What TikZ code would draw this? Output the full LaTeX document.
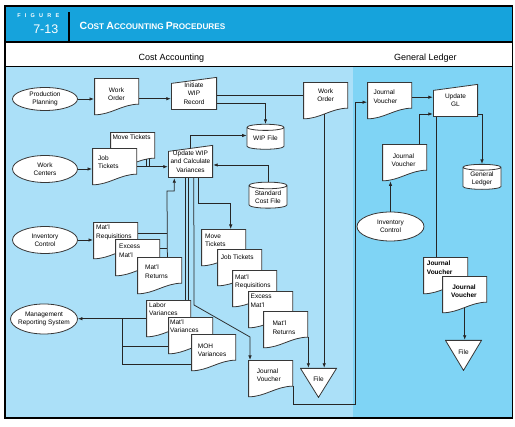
\documentclass[tikz,border=0pt]{standalone}
\usepackage{fontspec}
\setmainfont{Liberation Sans}
\usetikzlibrary{positioning,shapes.geometric,arrows.meta}
\definecolor{hdrblue}{RGB}{22,163,220}
\definecolor{caback}{RGB}{171,224,248}
\definecolor{glback}{RGB}{127,212,245}
\definecolor{outl}{RGB}{55,55,55}
\newcommand{\dfont}{\fontsize{6.5}{8.2}\selectfont}
\tikzset{shp/.style={fill=white, draw=outl, line width=0.8pt}}
\tikzset{doc/.style={rectangle, anchor=north west, minimum width=45pt, minimum height=37pt, inner sep=0pt,
	path picture={\path[shp] ([shift={(0.4pt,-0.4pt)}]path picture bounding box.north west)
		-- ([shift={(-0.4pt,-0.4pt)}]path picture bounding box.north east)
		-- ([shift={(-0.4pt,11pt)}]path picture bounding box.south east)
		.. controls ([shift={(-17pt,11pt)}]path picture bounding box.south east)
		and ([shift={(17pt,0.4pt)}]path picture bounding box.south west)
		.. ([shift={(0.4pt,0.4pt)}]path picture bounding box.south west) -- cycle;}}}
\tikzset{manual/.style={rectangle, minimum width=45pt, minimum height=33pt, inner sep=0pt, align=center, font=\dfont,
	path picture={\path[shp] ([shift={(0.4pt,0.4pt)}]path picture bounding box.south west)
		-- ([shift={(-0.4pt,0.4pt)}]path picture bounding box.south east)
		-- ([shift={(-0.4pt,-0.4pt)}]path picture bounding box.north east)
		-- ([shift={(0.4pt,-6.4pt)}]path picture bounding box.north west) -- cycle;}}}
\tikzset{filetri/.style={rectangle, minimum width=37pt, minimum height=30pt, inner sep=0pt,
	path picture={\path[shp] ([shift={(0.5pt,-0.4pt)}]path picture bounding box.north west)
		-- ([shift={(-0.5pt,-0.4pt)}]path picture bounding box.north east)
		-- ([yshift=0.6pt]path picture bounding box.south) -- cycle;}}}
\tikzset{term/.style={ellipse, shp, inner xsep=-8pt, inner ysep=0pt, minimum width=65pt, minimum height=25pt, align=center, font=\dfont}}
\tikzset{store/.style={cylinder, shape border rotate=90, aspect=0.25, shp, inner sep=0pt, minimum width=37pt, minimum height=25pt, align=center, font=\dfont}}
\tikzset{dtxt/.style={anchor=north west, inner sep=0pt, align=left, font=\dfont}}
\tikzset{dtxtc/.style={anchor=north, inner sep=0pt, align=center, font=\dfont}}
\tikzset{arr/.style={draw=black!85, line width=0.75pt, -{Latex[length=4.5pt,width=3.5pt]}}}
\tikzset{ln/.style={draw=black!85, line width=0.75pt}}

\begin{document}
\begin{tikzpicture}[x=1pt, y=-1pt]
\useasboundingbox (0,0) rectangle (515,427);
\fill[white] (0,0) rectangle (515,427);
% frame, header and the two panels
\fill[hdrblue] (5,6) rectangle (512.5,42);
\fill[caback] (5,66.5) rectangle (353,418);
\fill[glback] (353,66.5) rectangle (512.5,418);
\draw[line width=1.5pt] (5,6) rectangle (512.5,418);
\draw[line width=1.2pt] (5,42) -- (512.5,42);
\draw[line width=1pt] (5,66.3) -- (512.5,66.3);
\draw[line width=1.5pt] (69.2,12.5) -- (69.2,42);
\node[text=white, font=\bfseries\fontsize{5.5}{5.5}\selectfont] (figword) at (38.3,15.3)
	{F\kern4.2pt I\kern4.2pt G\kern4.2pt U\kern4.2pt R\kern4.2pt E};
\node[text=white, font=\fontsize{12.5}{12.5}\selectfont] (fignum) at (45.8,29) {7-13};
\node[text=white, anchor=west, inner sep=0pt, font=\bfseries] (figtitle) at (79.5,25.5)
	{{\fontsize{10.5}{11}\selectfont C}{\fontsize{8.2}{9}\selectfont OST }{\fontsize{10.5}{11}\selectfont A}{\fontsize{8.2}{9}\selectfont CCOUNTING }{\fontsize{10.5}{11}\selectfont P}{\fontsize{8.2}{9}\selectfont ROCEDURES}};
\node[anchor=base, font=\fontsize{9}{10}\selectfont] (catitle) at (171.3,61) {Cost Accounting};
\node[anchor=base, font=\fontsize{9}{10}\selectfont] (gltitle) at (425.3,61) {General Ledger};

% Cost Accounting
\node[term, minimum height=23pt] (pp) at (45,99) {Production\\Planning};
\node[term, minimum height=27pt] (wc) at (45,169) {Work\\Centers};
\node[term, minimum height=27pt] (ic) at (45,240) {Inventory\\Control};
\node[term, minimum width=67pt, minimum height=30pt] (mrs) at (44,319) {Management\\Reporting System};

\node[doc] (wo1) at (94,78) {};
\node[dtxtc] (wo1t) at (116.5,87.7) {Work\\Order};
\node[manual, minimum width=46pt] (iwr) at (194,93.5) {Initiate\\WIP\\Record};
\node[doc] (wo2) at (303,82) {};
\node[dtxtc] (wo2t) at (325.7,88.3) {Work\\Order};
\node[store] (wipf) at (265.5,138.5) {WIP File};
\node[store, minimum width=38pt, minimum height=26pt] (scf) at (268,197) {Standard\\Cost File};

\node[doc] (mt1) at (110,132) {};
\node[dtxt] (mt1t) at (112.3,134.3) {Move Tickets};
\node[doc] (jt1) at (92,148) {};
\node[dtxt] (jt1t) at (98,155.3) {Job\\Tickets};
\node[manual] (uwip) at (190.5,161.5) {Update WIP\\and Calculate\\Variances};

\node[doc] (mr1) at (93,222) {};
\node[dtxt] (mr1t) at (96,225) {Mat'l\\Requisitions};
\node[doc] (em1) at (115,239) {};
\node[dtxt] (em1t) at (119,244.3) {Excess\\Mat'l};
\node[doc] (rt1) at (137,257) {};
\node[dtxt] (rt1t) at (145,265) {Mat'l\\Returns};

\node[doc] (mt2) at (201,229) {};
\node[dtxt] (mt2t) at (205,233.6) {Move\\Tickets};
\node[doc] (jt2) at (217,249) {};
\node[dtxt] (jt2t) at (220.7,255) {Job Tickets};
\node[doc] (mr2) at (232,270) {};
\node[dtxt] (mr2t) at (235,274.3) {Mat'l\\Requisitions};
\node[doc] (em2) at (248,291) {};
\node[dtxt] (em2t) at (250.5,294.3) {Excess\\Mat'l};
\node[doc] (rt2) at (263,311) {};
\node[dtxt] (rt2t) at (272.3,321) {Mat'l\\Returns};

\node[doc] (lv) at (146,300) {};
\node[dtxt] (lvt) at (149,302.7) {Labor\\Variances};
\node[doc] (mv) at (168,317) {};
\node[dtxt] (mvt) at (170,319.3) {Mat'l\\Variances};
\node[doc] (mohv) at (191,334) {};
\node[dtxt] (mohvt) at (197.7,343.7) {MOH\\Variances};

\node[doc] (jv1) at (248,360) {};
\node[dtxt] (jv1t) at (256.7,368.3) {Journal\\Voucher};
\node[filetri] (ftri) at (318.5,383) {};
\node[dtxtc] (ftrit) at (318.5,376.6) {File};

% General Ledger
\node[doc] (jvg1) at (367,82) {};
\node[dtxt] (jvg1t) at (373.3,90) {Journal\\Voucher};
\node[manual] (ugl) at (455.5,100.5) {Update\\GL};
\node[doc] (jvg2) at (382,144) {};
\node[dtxtc] (jvg2t) at (403.5,153.3) {Journal\\Voucher};
\node[store, minimum width=38pt] (glf) at (482,178.5) {General\\Ledger};
\node[term, minimum width=67pt, minimum height=29pt] (icg) at (390.5,226.5) {Inventory\\Control};
\node[doc] (jva) at (423,257) {};
\node[dtxt, font=\dfont\bfseries] (jvat) at (426.7,261) {Journal\\Voucher};
\node[doc] (jvb) at (442,276) {};
\node[dtxtc, font=\dfont\bfseries] (jvbt) at (464,284.3) {Journal\\Voucher};
\node[filetri, minimum height=31pt] (ftri2) at (463.5,355.5) {};
\node[dtxtc] (ftri2t) at (463.5,349.3) {File};

\coordinate (jn) at (167,191);
\coordinate (vj) at (122,318.5);
\coordinate (d1) at (194,305);
\coordinate (d2) at (250,337);
\coordinate (cj) at (355.5,404.5);

% flows
\draw[arr] (pp) -- (pp -| wo1.west);
\draw[arr] ([yshift=-2pt]wo1.east) -- ([yshift=-2pt]wo1.east -| iwr.west);
\draw[ln] ([yshift=-1.5pt]iwr.east) -- ([yshift=-1.5pt]iwr.east -| wo2.west);
\draw[arr] ([yshift=-9.5pt]iwr.east) -| (wipf.north);
\draw[arr] ([yshift=-3.5pt]uwip.north) |- ([yshift=3pt]wipf.west);
\draw[arr] (scf.north) |- ([yshift=-3.5pt]uwip.east);
\draw[arr] (wc) -- (wc -| jt1.west);
\draw[arr] (jt1.east) -- (jt1.east -| uwip.west);
\foreach \dx in {-9,-6}
	\draw[ln] ([xshift=\dx pt, yshift=10pt]mt1.south east) -- ([xshift=\dx pt]mt1.south east |- jt1.east);
\draw[arr] (ic) -- (ic -| mr1.west);
\draw[ln] ([yshift=7.5pt]mr1.east) -- ([yshift=7.5pt]mr1.east -| jn);
\draw[ln] ([yshift=9.5pt]em1.east) -- ([yshift=9.5pt]em1.east -| jn);
\draw[arr] ([xshift=-15pt]rt1.north east) -- (jn) -| ([xshift=6.5pt]uwip.south west);
\draw[ln] ([xshift=18pt]uwip.south west) -- ([xshift=18pt]uwip.south west |- lv.north);
\draw[ln] ([xshift=21pt]uwip.south west) -- ([xshift=21pt]uwip.south west |- lv.north);
\draw[arr] ([xshift=26pt]uwip.south west) -- (d1) -- (d2) -- (d2 |- jv1.north);
\draw[arr] ([xshift=31pt]uwip.south west) -- ++(0,25) -| ([xshift=7pt]mt2.north);
\draw[arr] (lv.west) -- (lv.west -| mrs.east);
\draw[ln] (vj) |- ([yshift=-10.5pt]mv.west);
\draw[ln] (vj) |- ([yshift=-11.5pt]mohv.west);
\draw[arr] ([xshift=-1.5pt,yshift=5pt]wo2.south) -- ([xshift=-1.5pt]wo2.south |- ftri.north);
\draw[arr] ([yshift=11pt]rt2.south east) -- (rt2.south east |- ftri.north);
\draw[arr] ([yshift=11pt]jv1.south east) |- (cj) |- ([yshift=-1.5pt]jvg1.west);
\draw[arr] ([yshift=3.5pt]jvg1.east) -- ([yshift=3.5pt]jvg1.east -| ugl.west);
\draw[arr] ([xshift=-8pt]jvg2.north east) |- ([yshift=-13.5pt]ugl.west);
\draw[arr] (icg) -- (icg |- jvg2.south);
\draw[arr] ([yshift=-13.5pt]ugl.east) -| (glf.north);
\draw[ln] ([xshift=4pt]ugl.south west) -- ([xshift=4pt]ugl.south west |- jva.north);
\draw[arr] ([yshift=5pt]jvb.south) -- (jvb.south |- ftri2.north);
\end{tikzpicture}
\end{document}
